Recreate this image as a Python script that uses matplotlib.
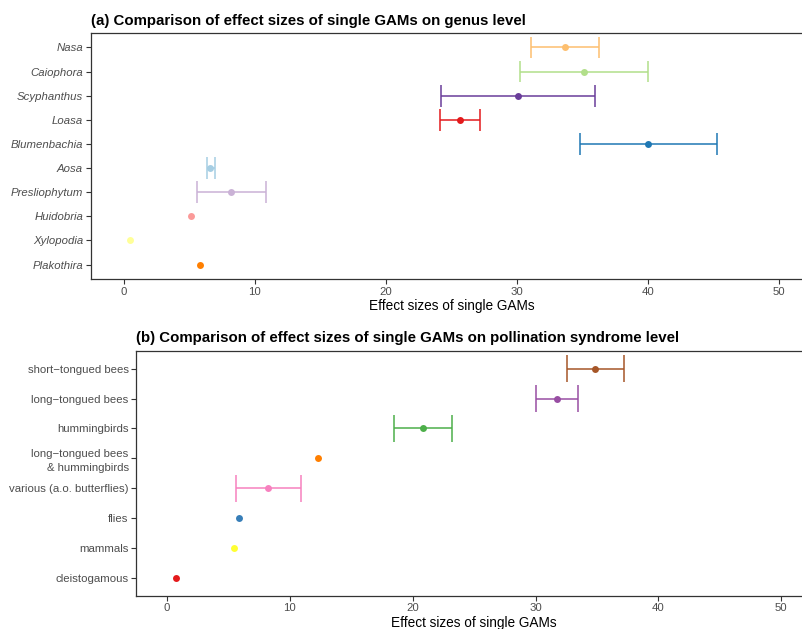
import matplotlib
matplotlib.use("Agg")
import matplotlib.pyplot as plt

plt.rcParams["font.family"] = ["Liberation Sans", "DejaVu Sans"]

# panel (a): genus level, listed bottom to top
genera = ["Plakothira", "Xylopodia", "Huidobria", "Presliophytum", "Aosa",
          "Blumenbachia", "Loasa", "Scyphanthus", "Caiophora", "Nasa"]
genus_est = [5.84, 0.48, 5.11, 8.21, 6.63, 40.02, 25.63, 30.08, 35.11, 33.66]
genus_lo = [None, None, None, 5.57, 6.33, 34.80, 24.10, 24.23, 30.25, 31.05]
genus_hi = [None, None, None, 10.85, 6.96, 45.28, 27.18, 35.97, 39.97, 36.28]
genus_col = ["#FF7F00", "#FFFF99", "#FB9A99", "#CAB2D6", "#A6CEE3",
             "#1F78B4", "#E31A1C", "#6A3D9A", "#B2DF8A", "#FDBF6F"]

# panel (b): pollination syndrome level, listed bottom to top
syndromes = ["cleistogamous", "mammals", "flies", "various (a.o. butterflies)",
             "long\u2212tongued bees\n& hummingbirds", "hummingbirds",
             "long\u2212tongued bees", "short\u2212tongued bees"]
synd_est = [0.73, 5.45, 5.88, 8.22, 12.29, 20.80, 31.73, 34.87]
synd_lo = [None, None, None, 5.61, None, 18.44, 30.05, 32.55]
synd_hi = [None, None, None, 10.93, None, 23.19, 33.47, 37.18]
synd_col = ["#E41A1C", "#FFFF33", "#377EB8", "#F781BF", "#FF7F00",
            "#4DAF4A", "#984EA3", "#A65628"]

x_ticks = [0, 10, 20, 30, 40, 50]
CAP = 0.45


def draw_panel(ax, labels, est, lo, hi, cols, title, italic):
    for i, (e, l, h, c) in enumerate(zip(est, lo, hi, cols)):
        if l is not None:
            ax.hlines(i, l, h, color=c, lw=1.1, zorder=2)
            ax.vlines([l, h], i - CAP, i + CAP, color=c, lw=1.1, zorder=2)
        ax.scatter(e, i, s=25, color=c, zorder=3, linewidths=0)
    ax.set_xlim(-2.5, 52.5)
    ax.set_ylim(-0.6, len(labels) - 0.4)
    ax.set_xticks(x_ticks)
    ax.set_yticks(range(len(labels)))
    ax.set_yticklabels(labels, style="italic" if italic else "normal")
    for t in ax.get_yticklabels():
        t.set_linespacing(1.45)
    ax.tick_params(colors="#333333", labelcolor="#4D4D4D", labelsize=8.2,
                   length=3.5, width=0.8, pad=2)
    for sp in ax.spines.values():
        sp.set_color("#333333")
        sp.set_linewidth(0.9)
    ax.set_xlabel("Effect sizes of single GAMs", fontsize=9.8, labelpad=2)
    ax.set_title(title, loc="left", fontsize=10.8, fontweight="bold", pad=6)


fig = plt.figure(figsize=(8.03, 6.29), dpi=100)
ax1 = fig.add_axes([0.1130, 0.5564, 0.8983, 0.3911])
ax2 = fig.add_axes([0.1697, 0.0529, 0.8415, 0.3895])

draw_panel(ax1, genera, genus_est, genus_lo, genus_hi, genus_col,
           "(a) Comparison of effect sizes of single GAMs on genus level", True)
draw_panel(ax2, syndromes, synd_est, synd_lo, synd_hi, synd_col,
           "(b) Comparison of effect sizes of single GAMs on pollination syndrome level",
           False)

fig.savefig("out.png", dpi=100)
